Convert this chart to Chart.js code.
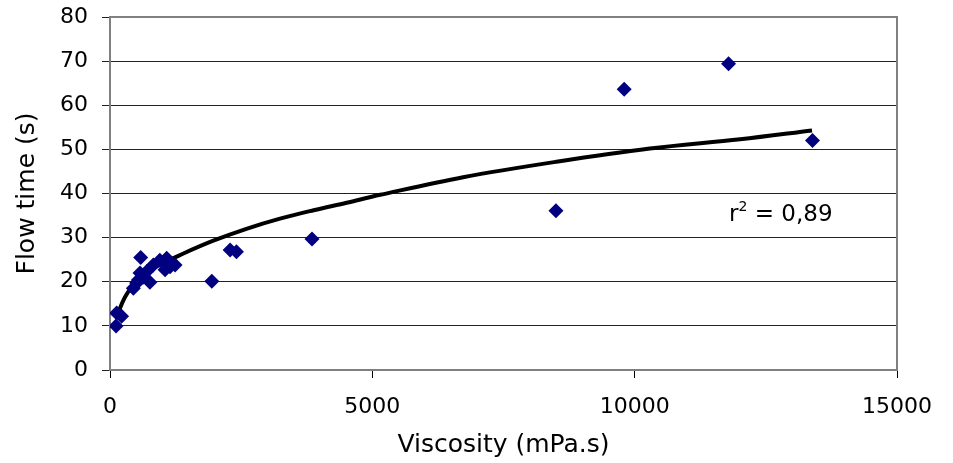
<!DOCTYPE html>
<html lang="en">
<head>
    <meta charset="UTF-8">
    <title>Flow time vs viscosity</title>
    <style>
        body {
            margin: 0;
            background-color: #fff;
        }

        .chart-container {
            width: 953px;
            height: 463px;
        }
    </style>
</head>
<body>
    <div class="chart-container">
        <canvas id="flowChart" width="953" height="463"></canvas>
    </div>

    <script src="https://cdn.jsdelivr.net/npm/chart.js"></script>
    <script>
        // measured samples
        const viscosity = [115, 127, 220, 445, 508, 540, 572, 585, 630, 700, 760, 826, 950, 1050, 1080, 1145, 1240, 1940, 2290, 2410, 3850, 8500, 9800, 11790, 13390];
        const flowTime = [10.0, 12.9, 12.2, 18.5, 19.7, 20.4, 22.0, 25.5, 21.0, 22.3, 19.9, 23.8, 24.9, 22.7, 25.3, 23.4, 23.8, 20.1, 27.2, 26.8, 29.7, 36.1, 63.6, 69.4, 52.0];

        // trend curve
        const trendX = [115, 290, 540, 860, 1400, 1970, 2600, 3240, 3880, 4510, 5150, 6730, 8510, 10290, 12010, 13380];
        const trendY = [11.7, 16.6, 20.6, 23.3, 26.4, 29.3, 32.0, 34.3, 36.2, 37.9, 39.7, 43.7, 47.2, 50.2, 52.3, 54.3];

        const xTicks = [0, 5000, 10000, 15000];
        const yTicks = [0, 10, 20, 30, 40, 50, 60, 70, 80];

        const fitLabel = { base: 'r', sup: '2', rest: ' = 0,89', x: 11800, y: 33.8 };

        const FONT = 'DejaVu Sans';

        const frame = {
            id: 'frame',
            beforeDatasetsDraw(chart) {
                const a = chart.chartArea;
                const ctx = chart.ctx;
                ctx.save();
                ctx.strokeStyle = '#808080';
                ctx.lineWidth = 2;
                ctx.strokeRect(a.left, a.top, a.right - a.left, a.bottom - a.top);
                ctx.restore();
            }
        };

        const fitText = {
            id: 'fitText',
            afterDatasetsDraw(chart) {
                const ctx = chart.ctx;
                const px = chart.scales.x.getPixelForValue(fitLabel.x);
                const py = chart.scales.y.getPixelForValue(fitLabel.y);
                ctx.save();
                ctx.fillStyle = '#000';
                ctx.textBaseline = 'alphabetic';
                ctx.font = '23px "' + FONT + '"';
                ctx.fillText(fitLabel.base, px, py);
                let w = ctx.measureText(fitLabel.base).width;
                ctx.font = '14px "' + FONT + '"';
                ctx.fillText(fitLabel.sup, px + w, py - 10);
                w += ctx.measureText(fitLabel.sup).width;
                ctx.font = '23px "' + FONT + '"';
                ctx.fillText(fitLabel.rest, px + w, py);
                ctx.restore();
            }
        };

        const points = viscosity.map((v, i) => ({ x: v, y: flowTime[i] }));
        const trend = trendX.map((v, i) => ({ x: v, y: trendY[i] }));

        const ctx = document.getElementById('flowChart').getContext('2d');
        new Chart(ctx, {
            type: 'scatter',
            data: {
                datasets: [{
                    label: 'Flow time',
                    data: points,
                    pointStyle: 'rectRot',
                    pointRadius: 7.5,
                    pointBackgroundColor: '#000080',
                    pointBorderWidth: 0,
                    showLine: false
                }, {
                    label: 'Trend',
                    data: trend,
                    showLine: true,
                    borderColor: '#000',
                    borderWidth: 4,
                    pointRadius: 0,
                    tension: 0.35,
                    fill: false
                }]
            },
            options: {
                responsive: false,
                animation: false,
                layout: {
                    padding: { top: 17, right: 56, left: 0, bottom: 0 }
                },
                plugins: {
                    legend: { display: false },
                    tooltip: { enabled: false }
                },
                scales: {
                    x: {
                        type: 'linear',
                        min: 0,
                        max: 15000,
                        afterBuildTicks: s => { s.ticks = xTicks.map(v => ({ value: v })); },
                        afterFit: s => {
                            s.height = 93;
                            s.paddingLeft = 0;
                            s.paddingRight = 0;
                        },
                        grid: {
                            drawOnChartArea: false,
                            drawTicks: true,
                            tickLength: 8,
                            color: '#000'
                        },
                        border: { color: '#000', width: 1 },
                        ticks: {
                            padding: 16,
                            color: '#000',
                            font: { family: FONT, size: 22 },
                            maxRotation: 0,
                            callback: v => String(v)
                        },
                        title: {
                            display: true,
                            text: 'Viscosity (mPa.s)',
                            color: '#000',
                            font: { family: FONT, size: 25 },
                            padding: { top: 0, bottom: 3 }
                        }
                    },
                    y: {
                        min: 0,
                        max: 80,
                        afterBuildTicks: s => { s.ticks = yTicks.map(v => ({ value: v })); },
                        afterFit: s => {
                            s.width = 110;
                            s.paddingTop = 0;
                            s.paddingBottom = 0;
                        },
                        grid: {
                            color: '#222',
                            lineWidth: 1,
                            tickLength: 8
                        },
                        border: { color: '#555', width: 1 },
                        ticks: {
                            padding: 14,
                            color: '#000',
                            font: { family: FONT, size: 22 },
                            callback: v => String(v)
                        },
                        title: {
                            display: true,
                            text: 'Flow time (s)',
                            color: '#000',
                            font: { family: FONT, size: 25 },
                            padding: { top: 12, bottom: 0 }
                        }
                    }
                }
            },
            plugins: [frame, fitText]
        });
    </script>
</body>
</html>
